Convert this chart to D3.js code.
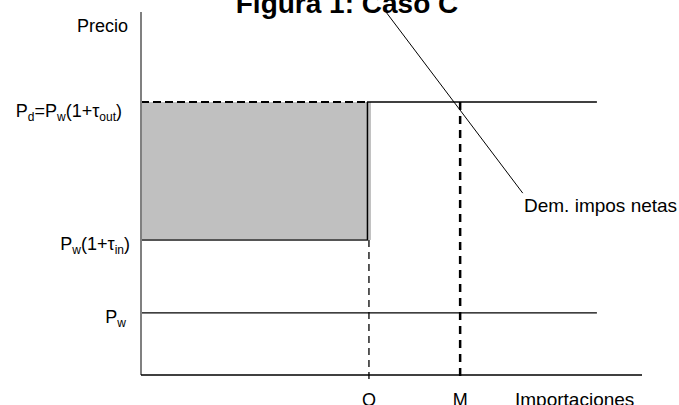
<!DOCTYPE html>
<html>
<head>
<meta charset="utf-8">
<script src="https://cdn.jsdelivr.net/npm/d3@7"></script>
<style>
  body { margin: 0; background: #fff; }
  svg { display: block; font-family: "Liberation Sans", Arial, sans-serif; }
</style>
</head>
<body>
<svg id="chart"></svg>
<script>
// niveles de precio (unidades abstractas del diagrama)
const priceNames = ["Pd", "Pin", "Pw"];
const priceValues = [7.52, 3.72, 1.71];
// cantidades marcadas en el eje horizontal
const qtyNames = ["Q", "M"];
const qtyValues = [4.55, 6.37];
// demanda de importaciones netas (dos extremos de la recta)
const demandX = [4.89, 7.62];
const demandY = [10, 5.01];
const lineEnd = 9.1;   // donde terminan las horizontales de precio
const axisMaxX = 10;

const W = 679, H = 405;
const svg = d3.select("#chart").attr("width", W).attr("height", H);

const x = d3.scaleLinear().domain([0, axisMaxX]).range([141, 642]);
const y = d3.scaleLinear().domain([0, 10]).range([375, 12]);

const pd = priceValues[0], pin = priceValues[1], pw = priceValues[2];
const q = qtyValues[0], m = qtyValues[1];

// titulo (cortado arriba como en el original)
svg.append("text")
  .attr("x", 347).attr("y", 13)
  .attr("text-anchor", "middle")
  .style("font-weight", "bold").style("font-size", "28px")
  .text("Figura 1: Caso C");

// area sombreada
svg.append("rect")
  .attr("x", x(0)).attr("y", y(pd))
  .attr("width", x(q) - x(0) + 2)
  .attr("height", y(pin) - y(pd))
  .attr("fill", "#c0c0c0");

// borde inferior (P_w(1+tin)) y derecho del area
svg.append("line")
  .attr("x1", x(0)).attr("x2", x(q) - 1)
  .attr("y1", y(pin)).attr("y2", y(pin))
  .attr("stroke", "#555").attr("stroke-width", 2);
svg.append("line")
  .attr("x1", x(q) - 1.5).attr("x2", x(q) - 1.5)
  .attr("y1", y(pd)).attr("y2", y(pin))
  .attr("stroke", "#000").attr("stroke-width", 1.5);

// Pd: discontinua sobre el area, continua despues
svg.append("line")
  .attr("x1", x(0)).attr("x2", x(q) - 2)
  .attr("y1", y(pd)).attr("y2", y(pd))
  .attr("stroke", "#000").attr("stroke-width", 2)
  .attr("stroke-dasharray", "8,4");
svg.append("line")
  .attr("x1", x(q) - 2).attr("x2", x(lineEnd))
  .attr("y1", y(pd)).attr("y2", y(pd))
  .attr("stroke", "#000").attr("stroke-width", 1.3);

// Pw
svg.append("line")
  .attr("x1", x(0)).attr("x2", x(lineEnd))
  .attr("y1", y(pw)).attr("y2", y(pw))
  .attr("stroke", "#000").attr("stroke-width", 1.3);

// Q y M verticales
svg.append("line")
  .attr("x1", x(q)).attr("x2", x(q))
  .attr("y1", y(pin)).attr("y2", y(0) + 4)
  .attr("stroke", "#000").attr("stroke-width", 1.3)
  .attr("stroke-dasharray", "7,5");
svg.append("line")
  .attr("x1", x(m)).attr("x2", x(m))
  .attr("y1", y(pd)).attr("y2", y(0) + 4)
  .attr("stroke", "#000").attr("stroke-width", 2.5)
  .attr("stroke-dasharray", "8,6");

// demanda
svg.append("line")
  .attr("x1", x(demandX[0])).attr("y1", y(demandY[0]))
  .attr("x2", x(demandX[1])).attr("y2", y(demandY[1]))
  .attr("stroke", "#000").attr("stroke-width", 1);

// ejes
svg.append("line")
  .attr("x1", x(0)).attr("x2", x(0))
  .attr("y1", y(10)).attr("y2", y(0))
  .attr("stroke", "#808080").attr("stroke-width", 2);
svg.append("line")
  .attr("x1", x(0)).attr("x2", x(axisMaxX))
  .attr("y1", y(0)).attr("y2", y(0))
  .attr("stroke", "#000").attr("stroke-width", 1.5);

// etiquetas con subindices
const fs = 18, sub = 12;
function label(parts, xr, yb) {
  const t = svg.append("text")
    .attr("x", xr).attr("y", yb)
    .attr("text-anchor", "end")
    .style("font-size", fs + "px");
  parts.forEach(p => {
    const s = t.append("tspan").text(p[0]);
    if (p[1]) s.style("font-size", sub + "px").attr("dy", 4);
    else if (p[2]) s.attr("dy", -4);
  });
  return t;
}

label([["Precio"]], 128, 32);
label([["P"], ["d", 1], ["=P", 0, 1], ["w", 1], ["(1+τ", 0, 1], ["out", 1], [")", 0, 1]], 122, y(pd) + 15);
label([["P"], ["w", 1], ["(1+τ", 0, 1], ["in", 1], [")", 0, 1]], 130, y(pin) + 10);
label([["P"], ["w", 1]], 126, y(pw) + 10);

svg.append("text")
  .attr("x", 524).attr("y", 212)
  .style("font-size", "19px")
  .text("Dem. impos netas");

svg.selectAll(".qlab")
  .data(qtyNames)
  .enter().append("text")
  .attr("class", "qlab")
  .attr("x", (d, i) => x(qtyValues[i]))
  .attr("y", 406)
  .attr("text-anchor", "middle")
  .style("font-size", fs + "px")
  .text(d => d);

svg.append("text")
  .attr("x", 515).attr("y", 406)
  .style("font-size", "19px")
  .text("Importaciones");
</script>
</body>
</html>
